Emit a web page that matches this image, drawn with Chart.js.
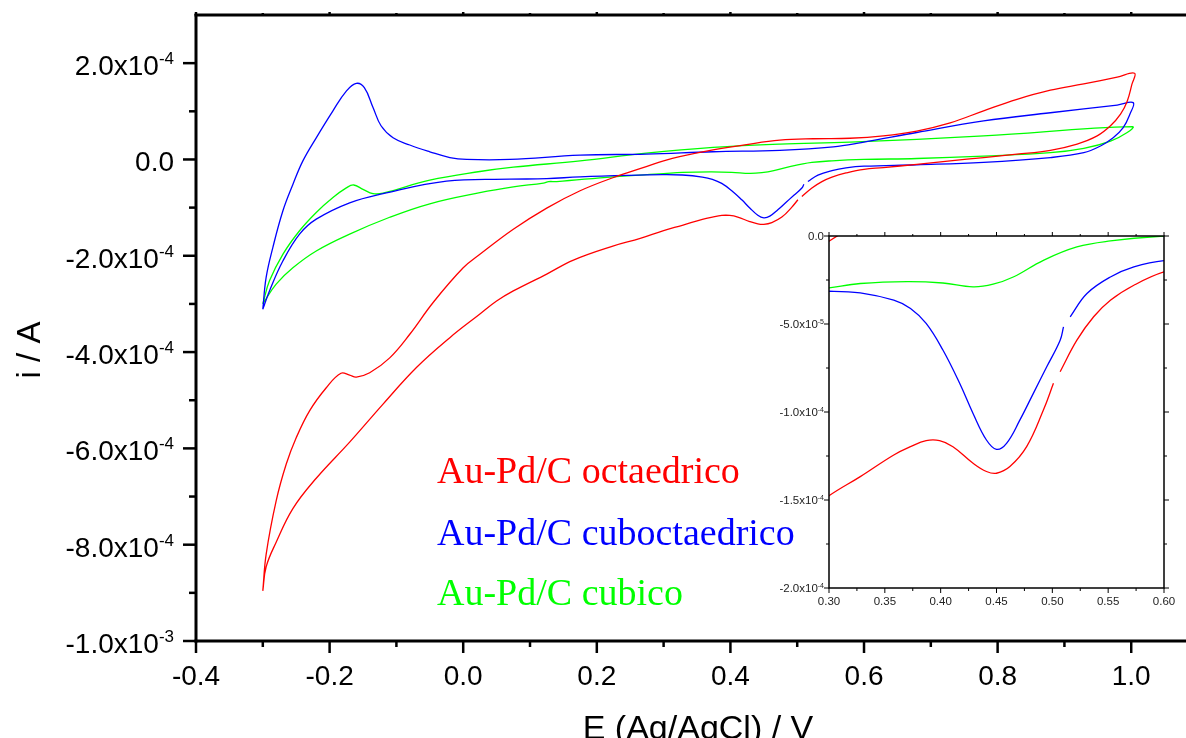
<!DOCTYPE html>
<html>
<head>
<meta charset="utf-8">
<script src="https://cdn.jsdelivr.net/npm/chart.js@4.4.1/dist/chart.umd.min.js"></script>
<style>
  html, body { margin: 0; padding: 0; background: #fff; overflow: hidden; }
  #wrap { position: relative; width: 1186px; height: 738px; }
  #main { position: absolute; left: 0; top: 0; }
  #inset { position: absolute; left: 740px; top: 200px; }
</style>
</head>
<body>
<div id="wrap">
  <canvas id="main" width="1186" height="738"></canvas>
  <canvas id="inset" width="446" height="420"></canvas>
</div>
<script>
// Potential (V vs Ag/AgCl) and current (x1e-4 A), one closed CV loop per catalyst
// null current = break in the recorded trace

const octaE = [-0.3, -0.295, -0.28, -0.265, -0.25, -0.23, -0.205, -0.183, -0.17, -0.16, -0.14, -0.11, -0.08, -0.045,
    0.0, 0.025, 0.075, 0.125, 0.175, 0.224, 0.274, 0.3, 0.324, 0.374, 0.424, 0.474, 0.524, 0.579, 0.629, 0.679,
    0.729, 0.779, 0.829, 0.879, 0.929, 0.979, 1.005,
    1.001, 0.994, 0.984, 0.969, 0.949, 0.919, 0.879, 0.829, 0.779, 0.729, 0.679, 0.629, 0.6, 0.573, 0.552, 0.537,
    0.522, 0.507, 0.504, 0.501, 0.492, 0.477, 0.462, 0.45, 0.441, 0.429, 0.411, 0.399, 0.387, 0.373, 0.358, 0.328,
    0.3, 0.265, 0.224, 0.165, 0.125, 0.075, 0.05, 0.025, -0.02, -0.07, -0.12, -0.17, -0.22, -0.255, -0.28, -0.295, -0.3];
const octaI = [-8.96, -8.2, -7.09, -6.33, -5.78, -5.22, -4.74, -4.44, -4.48, -4.52, -4.43, -4.12, -3.63, -2.97,
    -2.25, -1.97, -1.45, -1.01, -0.65, -0.38, -0.15, -0.03, 0.06, 0.2, 0.31, 0.4, 0.43, 0.44, 0.49, 0.59,
    0.76, 1.01, 1.25, 1.44, 1.57, 1.71, 1.79,
    1.56, 1.21, 0.94, 0.7, 0.49, 0.32, 0.19, 0.11, 0.04, -0.03, -0.1, -0.17, -0.204, -0.28, -0.365, -0.459,
    -0.592, -0.771, null, -0.837, -0.989, -1.197, -1.31, -1.348, -1.338, -1.291, -1.197, -1.163, -1.163, -1.197, -1.244, -1.367,
    -1.476, -1.64, -1.8, -2.09, -2.38, -2.73, -2.94, -3.21, -3.7, -4.32, -5.08, -5.87, -6.62, -7.25, -7.95, -8.46, -8.96];

const cuboE = [-0.3, -0.295, -0.285, -0.27, -0.255, -0.24, -0.22, -0.195, -0.175, -0.16, -0.148, -0.135, -0.123, -0.105,
    -0.08, -0.05, -0.02, 0.005, 0.07, 0.175, 0.274, 0.374, 0.474, 0.554, 0.596, 0.679, 0.779, 0.879, 0.979, 1.003,
    0.998, 0.988, 0.973, 0.954, 0.929, 0.879, 0.779, 0.679, 0.6, 0.573, 0.552, 0.531, 0.516, 0.513, 0.51, 0.507,
    0.495, 0.483, 0.471, 0.459, 0.45, 0.441, 0.429, 0.417, 0.402, 0.387, 0.373, 0.358, 0.328, 0.3, 0.274, 0.175,
    0.125, 0.07, -0.025, -0.12, -0.17, -0.22, -0.245, -0.27, -0.29, -0.3];
const cuboI = [-3.11, -2.45, -1.83, -1.07, -0.52, -0.03, 0.45, 1.01, 1.42, 1.58, 1.49, 1.08, 0.7, 0.45,
    0.3, 0.16, 0.04, 0.0, 0.0, 0.09, 0.11, 0.16, 0.19, 0.26, 0.35, 0.56, 0.8, 0.97, 1.13, 1.18,
    0.94, 0.66, 0.45, 0.28, 0.14, 0.04, -0.06, -0.11, -0.14, -0.176, -0.233, -0.327, -0.459, null, -0.516, -0.592,
    -0.743, -0.894, -1.045, -1.178, -1.212, -1.159, -1.008, -0.837, -0.648, -0.497, -0.412, -0.365, -0.323, -0.314, -0.32, -0.36,
    -0.4, -0.41, -0.45, -0.71, -0.9, -1.24, -1.55, -2.11, -2.73, -3.11];

const cubiE = [-0.3, -0.29, -0.27, -0.245, -0.22, -0.195, -0.175, -0.164, -0.15, -0.135, -0.12, -0.05, 0.025, 0.075,
    0.175, 0.274, 0.374, 0.474, 0.579, 0.779, 1.002,
    0.994, 0.969, 0.929, 0.879, 0.779, 0.679, 0.6, 0.552, 0.522, 0.492, 0.465, 0.447, 0.429, 0.402, 0.37, 0.328,
    0.3, 0.224, 0.14, 0.128, 0.12, 0.075, 0.025, -0.05, -0.11, -0.17, -0.22, -0.255, -0.28, -0.3];
const cubiI = [-3.0, -2.52, -1.97, -1.48, -1.1, -0.79, -0.59, -0.53, -0.62, -0.71, -0.7, -0.43, -0.25, -0.16,
    -0.03, 0.13, 0.25, 0.32, 0.36, 0.49, 0.68,
    0.56, 0.38, 0.23, 0.14, 0.07, 0.02, 0.0, -0.028, -0.062, -0.138, -0.233, -0.274, -0.289, -0.267, -0.259, -0.27,
    -0.295, -0.36, -0.46, -0.46, -0.49, -0.57, -0.69, -0.92, -1.2, -1.55, -1.9, -2.25, -2.59, -3.0];

const seriesNames  = ["Au-Pd/C octaedrico", "Au-Pd/C cuboctaedrico", "Au-Pd/C cubico"];
const seriesColors = ["#ff0000", "#0000ff", "#00ff00"];

// main axes tick labels
const xTicks     = [-0.4, -0.2, 0.0, 0.2, 0.4, 0.6, 0.8, 1.0];
const xTickText  = ["-0.4", "-0.2", "0.0", "0.2", "0.4", "0.6", "0.8", "1.0"];
const xMinor     = [-0.3, -0.1, 0.1, 0.3, 0.5, 0.7, 0.9];
const yTicks     = [2, 0, -2, -4, -6, -8, -10];
const yTickText  = [["2.0x10", "-4"], ["0.0", ""], ["-2.0x10", "-4"], ["-4.0x10", "-4"], ["-6.0x10", "-4"], ["-8.0x10", "-4"], ["-1.0x10", "-3"]];
const yMinor     = [1, -1, -3, -5, -7, -9];

// inset tick labels
const inXTicks    = [0.30, 0.35, 0.40, 0.45, 0.50, 0.55, 0.60];
const inXTickText = ["0.30", "0.35", "0.40", "0.45", "0.50", "0.55", "0.60"];
const inXMinor    = [0.325, 0.375, 0.425, 0.475, 0.525, 0.575];
const inYTicks    = [0, -0.5, -1.0, -1.5, -2.0];
const inYTickText = [["0.0", ""], ["-5.0x10", "-5"], ["-1.0x10", "-4"], ["-1.5x10", "-4"], ["-2.0x10", "-4"]];
const inYMinor    = [-0.25, -0.75, -1.25, -1.75];

const SANS  = '"Liberation Sans", Arial, sans-serif';
const SERIF = '"Liberation Serif", "Times New Roman", serif';

function toPoints(E, I) {
    return E.map((e, k) => ({ x: e, y: I[k] }));
}

function buildDatasets(width) {
    const sets = [[octaE, octaI], [cuboE, cuboI], [cubiE, cubiI]];
    return sets.map((s, k) => ({
        label: seriesNames[k],
        data: toPoints(s[0], s[1]),
        borderColor: seriesColors[k],
        backgroundColor: seriesColors[k],
        borderWidth: width,
        showLine: true,
        pointRadius: 0,
        tension: 0.4,
        spanGaps: false,
    }));
}

// text like 2.0x10^-4, aligned right or centred at x
function drawSci(ctx, parts, x, y, size, supSize, supRise, align) {
    ctx.font = `${size}px ${SANS}`;
    const wb = ctx.measureText(parts[0]).width;
    ctx.font = `${supSize}px ${SANS}`;
    const we = parts[1] ? ctx.measureText(parts[1]).width : 0;
    const x0 = align === "right" ? x - wb - we : x - (wb + we) / 2;
    ctx.textAlign = "left";
    ctx.font = `${size}px ${SANS}`;
    ctx.fillText(parts[0], x0, y);
    if (parts[1]) {
        ctx.font = `${supSize}px ${SANS}`;
        ctx.fillText(parts[1], x0 + wb, y - supRise);
    }
}

function line(ctx, x1, y1, x2, y2) {
    ctx.beginPath();
    ctx.moveTo(x1, y1);
    ctx.lineTo(x2, y2);
    ctx.stroke();
}

// Axes, ticks, titles and the coloured labels of the main plot
const mainDecor = {
    id: "mainDecor",
    afterDraw(chart) {
        const { ctx, chartArea: a, scales: { x, y } } = chart;
        ctx.save();
        ctx.strokeStyle = "#000";
        ctx.fillStyle = "#000";
        ctx.lineWidth = 3;
        line(ctx, a.left, a.top - 1, a.left, a.bottom + 1.5);
        line(ctx, a.left - 1.5, a.bottom, a.right, a.bottom);
        line(ctx, a.left - 1.5, a.top, a.right, a.top);

        ctx.lineWidth = 2.5;
        yTicks.forEach(v => { const p = y.getPixelForValue(v); line(ctx, a.left - 13, p, a.left, p); });
        yMinor.forEach(v => { const p = y.getPixelForValue(v); line(ctx, a.left - 7, p, a.left, p); });
        xTicks.forEach(v => { const p = x.getPixelForValue(v); line(ctx, p, a.bottom, p, a.bottom + 12); line(ctx, p, a.top, p, a.top - 3); });
        xMinor.forEach(v => { const p = x.getPixelForValue(v); line(ctx, p, a.bottom, p, a.bottom + 6); line(ctx, p, a.top, p, a.top - 2); });

        ctx.textBaseline = "alphabetic";
        yTicks.forEach((v, k) => {
            const p = y.getPixelForValue(v);
            drawSci(ctx, yTickText[k], 174, p + 12, 28, 17, 11, "right");
        });
        xTicks.forEach((v, k) => {
            const p = x.getPixelForValue(v);
            drawSci(ctx, [xTickText[k], ""], p, 685, 28, 16, 0, "center");
        });

        // axis titles
        ctx.font = `34px ${SANS}`;
        ctx.textAlign = "center";
        ctx.fillText("E (Ag/AgCl) / V", 698, 739);
        ctx.save();
        ctx.translate(40, 350);
        ctx.rotate(-Math.PI / 2);
        ctx.font = `33px ${SANS}`;
        ctx.fillText("i / A", 0, 0);
        ctx.restore();

        // series labels
        ctx.font = `38px ${SERIF}`;
        ctx.textAlign = "left";
        const baselines = [483, 545, 605];
        seriesNames.forEach((n, k) => {
            ctx.fillStyle = seriesColors[k];
            ctx.fillText(n, 437, baselines[k]);
        });
        ctx.restore();
    }
};

const insetDecor = {
    id: "insetDecor",
    afterDraw(chart) {
        const { ctx, chartArea: a, scales: { x, y } } = chart;
        ctx.save();
        ctx.strokeStyle = "#000";
        ctx.lineWidth = 1.5;
        ctx.strokeRect(a.left, a.top, a.right - a.left, a.bottom - a.top);

        ctx.lineWidth = 1;
        inYTicks.forEach(v => {
            const p = y.getPixelForValue(v);
            line(ctx, a.left - 5, p, a.left, p);
            line(ctx, a.right, p, a.right + 5, p);
        });
        inYMinor.forEach(v => {
            const p = y.getPixelForValue(v);
            line(ctx, a.left - 3, p, a.left, p);
            line(ctx, a.right, p, a.right + 3, p);
        });
        inXTicks.forEach(v => {
            const p = x.getPixelForValue(v);
            line(ctx, p, a.bottom, p, a.bottom + 5);
            line(ctx, p, a.top - 4, p, a.top);
        });
        inXMinor.forEach(v => {
            const p = x.getPixelForValue(v);
            line(ctx, p, a.bottom, p, a.bottom + 3);
            line(ctx, p, a.top - 2, p, a.top);
        });

        ctx.fillStyle = "#222";
        ctx.textBaseline = "alphabetic";
        inYTicks.forEach((v, k) => {
            const p = y.getPixelForValue(v);
            drawSci(ctx, inYTickText[k], a.left - 5, p + 4, 11.5, 7, 4.5, "right");
        });
        inXTicks.forEach((v, k) => {
            const p = x.getPixelForValue(v);
            drawSci(ctx, [inXTickText[k], ""], p, a.bottom + 17, 11.5, 7, 0, "center");
        });
        ctx.restore();
    }
};

const mainChart = new Chart(document.getElementById("main"), {
    type: "scatter",
    data: { datasets: buildDatasets(1.3) },
    options: {
        responsive: false,
        animation: false,
        layout: { padding: { left: 196, top: 15, right: 0, bottom: 97 } },
        scales: {
            x: { type: "linear", display: false, min: -0.4, max: 1.082 },
            y: { type: "linear", display: false, min: -10, max: 3 },
        },
        plugins: { legend: { display: false }, tooltip: { enabled: false } },
    },
    plugins: [mainDecor],
});

const insetChart = new Chart(document.getElementById("inset"), {
    type: "scatter",
    data: { datasets: buildDatasets(1.3) },
    options: {
        responsive: false,
        animation: false,
        layout: { padding: { left: 89, top: 36, right: 22, bottom: 32 } },
        scales: {
            x: { type: "linear", display: false, min: 0.3, max: 0.6 },
            y: { type: "linear", display: false, min: -2.0, max: 0 },
        },
        plugins: { legend: { display: false }, tooltip: { enabled: false } },
    },
    plugins: [insetDecor],
});
</script>
</body>
</html>
